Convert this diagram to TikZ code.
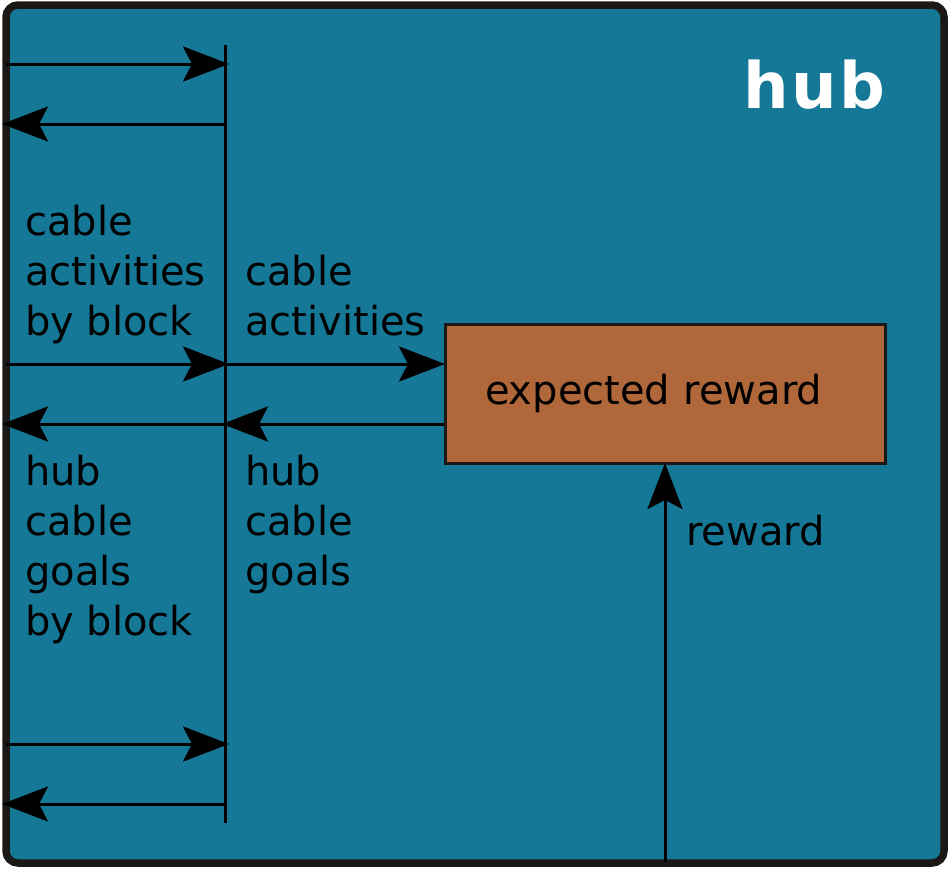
\documentclass[tikz,border=0pt]{standalone}
\usepackage{fontspec}
\setmainfont{DejaVu Sans}
\usetikzlibrary{arrows.meta}
\definecolor{hubfill}{HTML}{157896}
\definecolor{hubborder}{HTML}{1B1815}
\definecolor{boxfill}{HTML}{B0673A}
\begin{document}
\begin{tikzpicture}[x=1pt,y=-1pt,
  conn/.style={line width=3pt,-{Stealth[length=46pt,width=35pt,inset=9pt]}},
  lbl/.style={anchor=base west,inner sep=0pt,align=left,font=\fontsize{40}{50}\selectfont},
  rewardbox/.style={draw=hubborder,line width=3pt,fill=boxfill,minimum height=139pt,
    text width=360pt,inner xsep=40pt,align=left,font=\fontsize{40}{50}\selectfont}]
\useasboundingbox (0,0) rectangle (950,868);
\draw[hubborder,fill=hubfill,line width=7.5pt,rounded corners=12pt] (6,5) rectangle (944,863);
\node[anchor=base west,inner sep=0pt,text=white,font=\fontsize{64}{64}\selectfont\bfseries\addfontfeatures{LetterSpace=4}] (title) at (743,108) {hub};
% vertical bar
\coordinate (bartop) at (225,45);
\coordinate (barbot) at (225,823);
\draw[line width=3pt] (bartop) -- (barbot);
% box
\node[rewardbox] (er) at (665,393.5) {expected reward};
% free ends
\coordinate (l1) at (6,64);   \coordinate (r1) at (229,64);
\coordinate (s2) at (225,124); \coordinate (l2) at (2,124);
\coordinate (l3) at (6,364);  \coordinate (r3) at (229,364);
\coordinate (s3) at (225,364);
\coordinate (s4) at (225,424); \coordinate (t4) at (222,424); \coordinate (l4) at (2,424);
\coordinate (l5) at (6,744);  \coordinate (r5) at (229,744);
\coordinate (s6) at (225,804); \coordinate (l6) at (2,804);
\coordinate (bot) at (665,862);
\draw[conn] (l1) -- (r1);
\draw[conn] (s2) -- (l2);
\draw[conn] (l3) -- (r3);
\draw[conn] (s3) -- ([xshift=1.5pt]er.west |- s3);
\draw[conn] (er.west |- s4) -- (t4);
\draw[conn] (s4) -- (l4);
\draw[conn] (l5) -- (r5);
\draw[conn] (s6) -- (l6);
\draw[conn] (bot) -- ([yshift=1.5pt]er.south);
% labels (anchor is the baseline of the last line)
\node[lbl] (cabb) at (25,335) {cable\\activities\\by block};
\node[lbl] (ca) at (245,335) {cable\\activities};
\node[lbl] (hcgb) at (25,635) {hub\\cable\\goals\\by block};
\node[lbl] (hcg) at (245,585) {hub\\cable\\goals};
\node[lbl] (rw) at (686,545) {reward};
\end{tikzpicture}
\end{document}
